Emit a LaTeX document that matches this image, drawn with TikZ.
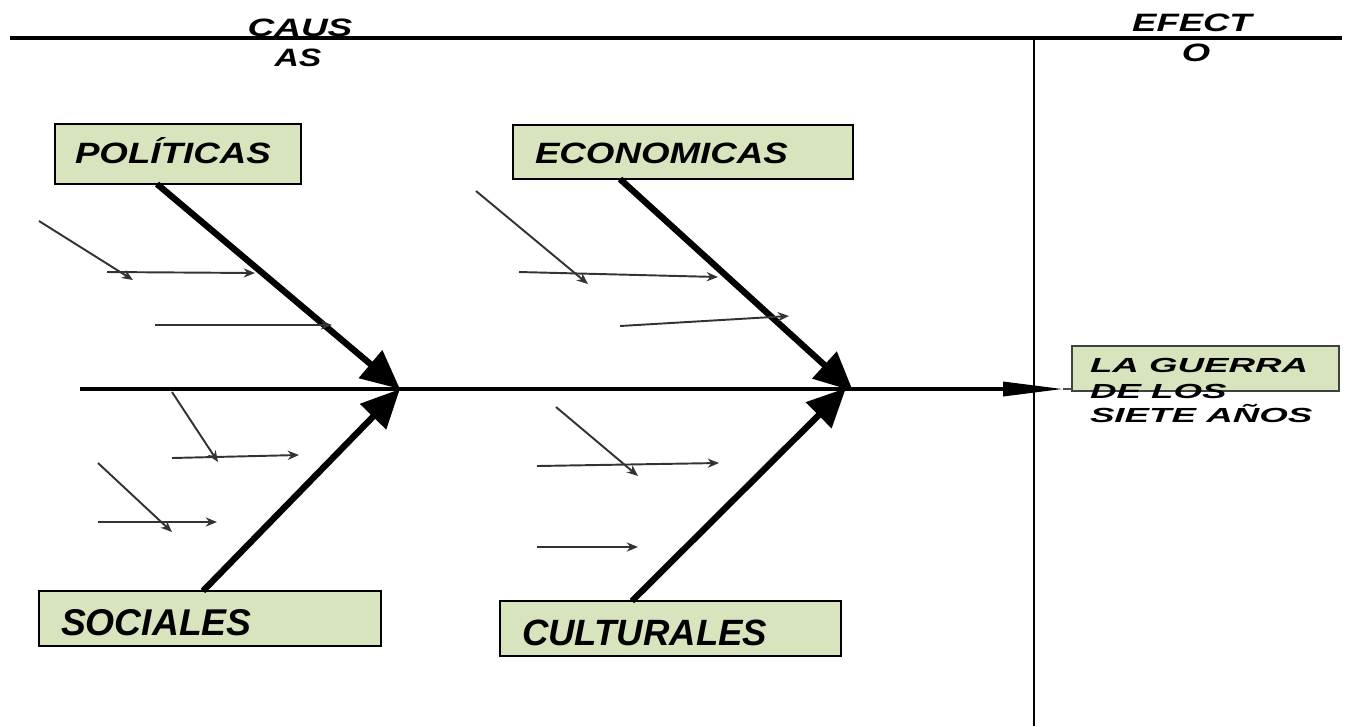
\documentclass[tikz,border=0pt]{standalone}
\usepackage{fontspec}
\setmainfont{Liberation Sans}
\usetikzlibrary{arrows.meta}
\definecolor{boxgreen}{HTML}{D7E4BD}
\newcommand\fbtext[3]{\scalebox{#2}[1]{\fontsize{#1}{#1}\selectfont\bfseries\itshape #3}}
\begin{document}
\begin{tikzpicture}[x=0.01cm,y=-0.01cm,
  box/.style={draw=black, line width=0.6pt, fill=boxgreen, inner sep=0pt, outer sep=0pt},
  lab/.style={inner sep=0pt, outer sep=0pt, text=black},
  rule/.style={line width=0.9pt, draw=black},
  bigarrow/.style={line width=1.8pt, -{Triangle[length=11pt,width=10pt]}},
  smallarrow/.style={line width=0.55pt, draw=black!80, -{Stealth[length=3.2pt,width=2.6pt]}},
  spine/.style={line width=0.9pt, -{Triangle[length=17pt,width=4pt]}}]
\useasboundingbox (0,0) rectangle (1347,726);

% headings
\node[lab, anchor=base] (causA) at (300,36) {\fbtext{7.15}{1.47}{CAUS}};
\node[lab, anchor=base] (causB) at (298,66) {\fbtext{7.15}{1.34}{AS}};
\node[lab, anchor=base] (efA) at (1192,31) {\fbtext{7.15}{1.45}{EFECT}};
\node[lab, anchor=base] (efB) at (1196,61) {\fbtext{7.15}{1.45}{O}};

% frame lines
\coordinate (topL) at (10,38);
\coordinate (topR) at (1342,38);
\coordinate (vTop) at (1034,38);
\coordinate (vBot) at (1034,726);
\draw[rule] (topL) -- (topR);
\draw[line width=0.8pt] (vTop) -- (vBot);

% boxes
\node[box, minimum width=2.46cm, minimum height=0.60cm] (pol) at (178,154) {};
\node[box, minimum width=3.40cm, minimum height=0.54cm] (eco) at (683,152) {};
\node[box, minimum width=3.42cm, minimum height=0.55cm] (soc) at (210,618.5) {};
\node[box, minimum width=3.41cm, minimum height=0.55cm] (cul) at (670.5,628.5) {};
\node[box, draw=black!75, minimum width=2.67cm, minimum height=0.45cm] (guerra) at (1205.5,368.5) {};

% box texts
\node[lab, anchor=base west] (polT) at (75,163) {\fbtext{8.35}{1.25}{POLÍTICAS}};
\node[lab, anchor=base west] (ecoT) at (535,163) {\fbtext{8.35}{1.25}{ECONOMICAS}};
\node[lab, anchor=base west] (socT) at (61,635) {\fbtext{10.6}{1.0}{SOCIALES}};
\node[lab, anchor=base west] (culT) at (522,645) {\fbtext{10.4}{1.0}{CULTURALES}};

% spine
\coordinate (spineL) at (80,389);
\coordinate (hubL) at (400,389);
\coordinate (hubR) at (853,389);
\coordinate (spineTip) at (1063,389);
\coordinate (spineEnd) at (1072,389);
\draw[spine] (spineL) -- (spineTip);
\draw[line width=0.5pt, black!70] (spineTip) -- (spineEnd);

% effect text
\node[lab, anchor=base west] (gA) at (1090,372) {\fbtext{5.8}{1.8}{LA GUERRA}};
\node[lab, anchor=base west] (gB) at (1090,398) {\fbtext{5.8}{1.8}{DE LOS}};
\node[lab, anchor=base west] (gC) at (1090,422) {\fbtext{5.8}{1.8}{SIETE AÑOS}};

% main bones
\coordinate (ecoTip) at (853,391);
\coordinate (culTip) at (846,388);
\draw[bigarrow] ([xshift=-0.21cm]pol.south) -- (hubL);
\draw[bigarrow] ([xshift=-0.07cm]soc.north) -- (hubL);
\draw[bigarrow] ([xshift=-0.63cm]eco.south) -- (ecoTip);
\draw[bigarrow] ([xshift=-0.385cm]cul.north) -- (culTip);

% small bones, left group
\coordinate (a1s) at (39,221);  \coordinate (a1e) at (133,280);
\coordinate (a2s) at (107,272); \coordinate (a2e) at (255,273);
\coordinate (a3s) at (155,325); \coordinate (a3e) at (332,325);
\coordinate (a4s) at (172,392); \coordinate (a4e) at (218,462);
\coordinate (a5s) at (172,458); \coordinate (a5e) at (299,455);
\coordinate (a6s) at (98,463);  \coordinate (a6e) at (172,532);
\coordinate (a7s) at (98,522);  \coordinate (a7e) at (217,522);
\foreach \n in {a1,a2,a3,a4,a5,a6,a7} \draw[smallarrow] (\n s) -- (\n e);

% small bones, right group
\coordinate (b1s) at (476,191); \coordinate (b1e) at (588,284);
\coordinate (b2s) at (519,272); \coordinate (b2e) at (718,277);
\coordinate (b3s) at (620,326); \coordinate (b3e) at (789,316);
\coordinate (b4s) at (556,407); \coordinate (b4e) at (638,476);
\coordinate (b5s) at (537,466); \coordinate (b5e) at (719,463);
\coordinate (b6s) at (537,547); \coordinate (b6e) at (638,547);
\foreach \n in {b1,b2,b3,b4,b5,b6} \draw[smallarrow] (\n s) -- (\n e);
\end{tikzpicture}
\end{document}
